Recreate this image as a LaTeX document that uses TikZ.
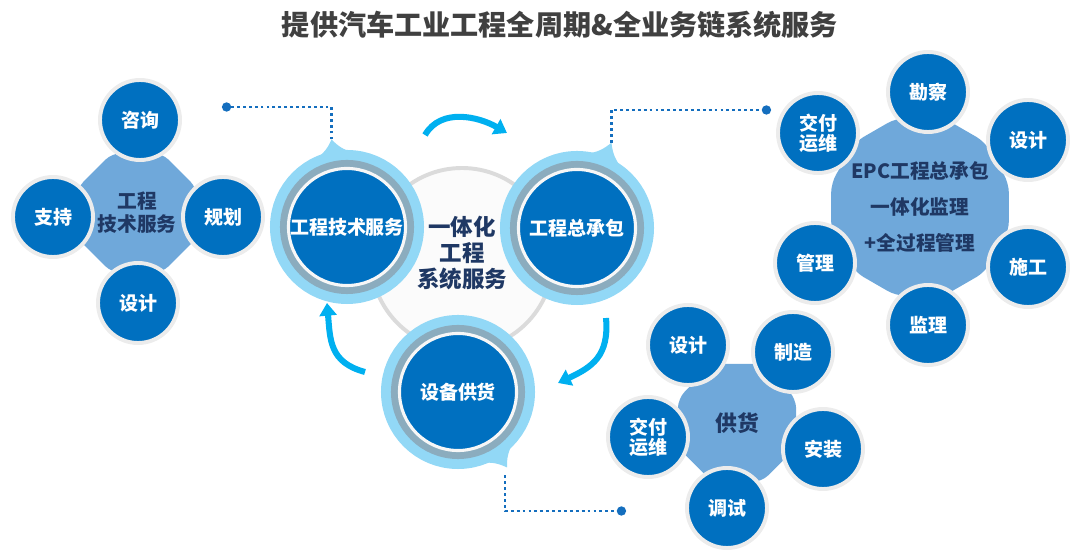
\documentclass[tikz,border=0pt]{standalone}
\usepackage{fontspec}
\setmainfont{Noto Sans CJK SC}
\usetikzlibrary{shapes.geometric,arrows.meta,positioning,calc}
\usepackage{xcolor}
\definecolor{satblue}{RGB}{0,112,192}
\definecolor{hubblue}{RGB}{111,168,218}
\definecolor{navytext}{RGB}{31,56,100}
\definecolor{glowblue}{RGB}{146,216,246}
\definecolor{ringgray}{RGB}{139,172,190}
\definecolor{arrowcyan}{RGB}{0,176,240}
\definecolor{dotblue}{RGB}{20,110,190}
\definecolor{titlegray}{RGB}{64,64,64}
\definecolor{rimgray}{RGB}{236,236,236}

\tikzset{
  sat/.style={circle, fill=satblue, draw=rimgray, line width=2.8pt, minimum size=2cm, inner sep=0pt,
    text=white, align=center, font=\bfseries\fontsize{13.5}{14.5}\selectfont},
  hub/.style={regular polygon, fill=hubblue, rounded corners=7pt, inner sep=0pt,
    text=navytext, align=center, font=\bfseries\fontsize{14}{16.5}\selectfont},
  core/.style={circle, fill=satblue, draw=white!94!gray, line width=2.2pt, minimum size=2.925cm, inner sep=0pt,
    text=white, font=\bfseries\fontsize{13.5}{15}\selectfont,
    preaction={draw=glowblue, line width=26.3pt}, preaction={draw=ringgray, line width=12.1pt}},
  turn/.style={arrowcyan, line width=4.3pt, -{Triangle[width=12pt,length=9pt]}},
  link/.style={dotblue, line width=2pt, dash pattern=on 2pt off 2.2pt, -{Circle[length=6.5pt]}},
}

\begin{document}
\begin{tikzpicture}[x=0.025cm, y=0.025cm]
    \useasboundingbox (0,0) rectangle (1080,551);
    \node[font=\bfseries\fontsize{20}{22}\selectfont, text=titlegray] (title) at (560,526) {提供汽车工业工程全周期\&全业务链系统服务};

    % integrated loop in the middle
    \draw[draw=gray!28, line width=2.8pt, fill=gray!3] (462,292) circle (91);
    \node[text=navytext, align=center, font=\bfseries\fontsize{16}{18.8}\selectfont] (loop) at (462,298) {一体化\\工程\\系统服务};

    \node[core] (tech) at (347,324) {工程技术服务};
    \node[core] (epc) at (577,323) {工程总承包};
    \node[core] (supply) at (458,159) {设备供货};

    \coordinate (techtip) at ($(tech)+(100:89)$);
    \coordinate (epctip) at ($(epc)+(68:92)$);
    \coordinate (supplytip) at ($(supply)+(-57:90)$);
    \fill[glowblue] ($(tech)+(86:75)$) to[bend left=15] (techtip) to[bend left=15] ($(tech)+(114:75)$) -- cycle;
    \fill[glowblue] ($(epc)+(54:75)$) to[bend left=15] (epctip) to[bend left=15] ($(epc)+(82:75)$) -- cycle;
    \fill[glowblue] ($(supply)+(-71:75)$) to[bend left=15] (supplytip) to[bend left=15] ($(supply)+(-43:75)$) -- cycle;

    \coordinate (topa) at (425,416);
    \coordinate (topb) at (507,418);
    \coordinate (righta) at (606,233);
    \coordinate (rightb) at (558,168);
    \coordinate (lefta) at (365,179);
    \coordinate (leftb) at (327,248);
    \draw[turn] (topa) to[out=60,in=150] (topb);
    \draw[turn] (righta) to[out=-85,in=25,looseness=1.2] (rightb);
    \draw[turn] (lefta) to[out=165,in=-85,looseness=1.2] (leftb);

    % engineering technical services
    \node[hub, regular polygon sides=8, minimum size=3.25cm] (techhub) at (137,338) {工程\\技术服务};
    \node[sat] (consult) at (140,431) {咨询};
    \node[sat] (support) at (53,334) {支持};
    \node[sat] (plan) at (223,334) {规划};
    \node[sat] (design) at (138,248) {设计};

    % EPC
    \node[hub, regular polygon sides=12, minimum size=4.6cm, inner sep=-12pt, font=\bfseries\fontsize{14}{25.6}\selectfont] (epchub) at (920,344) {EPC工程总承包\\一体化监理\\+全过程管理};
    \node[sat] (survey) at (928,459) {勘察};
    \node[sat] (epcdesign) at (1028,411) {设计};
    \node[sat] (build) at (1028,284) {施工};
    \node[sat] (supervise) at (928,226) {监理};
    \node[sat] (manage) at (815,288) {管理};
    \node[sat] (epcoper) at (818,418) {交付\\运维};

    % supply
    \node[hub, regular polygon sides=8, minimum size=3.2cm, font=\bfseries\fontsize{15.5}{17}\selectfont] (supplyhub) at (737,128) {供货};
    \node[sat] (supdesign) at (688,206) {设计};
    \node[sat] (make) at (793,199) {制造};
    \node[sat] (install) at (823,102) {安装};
    \node[sat] (commission) at (727,43) {调试};
    \node[sat] (supoper) at (648,114) {交付\\运维};

    \coordinate (techdot) at (222,444);
    \coordinate (epcdot) at (771,441);
    \coordinate (supplydot) at (626,40);
    \draw[link] (techtip) |- (techdot);
    \draw[link] (epctip) |- (epcdot);
    \draw[link] ($(supplytip)+(-2,-8)$) |- (supplydot);
\end{tikzpicture}
\end{document}
